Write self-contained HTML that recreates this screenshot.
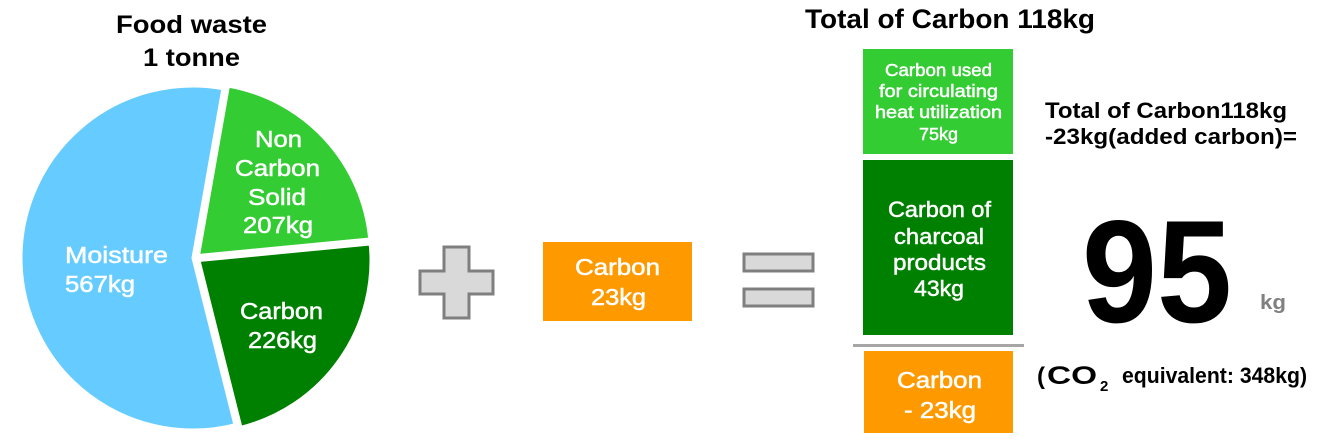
<!DOCTYPE html>
<html>
<head>
<meta charset="utf-8">
<style>
  html,body{margin:0;padding:0;background:#fff;}
  svg{display:block;}
  text{font-family:"Liberation Sans","Noto Sans CJK JP",sans-serif;}
  .b{font-weight:bold;fill:#000;}
  .w{fill:#fff;stroke:#fff;stroke-width:0.5;}
</style>
</head>
<body>
<svg width="1320" height="443" viewBox="0 0 1320 443" xmlns="http://www.w3.org/2000/svg">
  <!-- Left title -->
  <text class="b" x="116" y="33" font-size="25" textLength="151" lengthAdjust="spacingAndGlyphs">Food waste</text>
  <text class="b" x="143" y="66" font-size="25" textLength="97" lengthAdjust="spacingAndGlyphs">1 tonne</text>

  <!-- Pie -->
  <path d="M193,258 L234.9,424.8 A172,172 0 1 1 222.9,88.6 Z" fill="#66CCFF" stroke="#fff" stroke-width="3"/>
  <path d="M198.5,255.5 L228.4,86.1 A172,172 0 0 1 369.7,239 Z" fill="#33CC33" stroke="#fff" stroke-width="3"/>
  <path d="M199,260.5 L370.2,244 A172,172 0 0 1 240.9,427.3 Z" fill="#008000" stroke="#fff" stroke-width="3"/>

  <!-- Pie labels -->
  <text class="w" x="255" y="147" font-size="23" textLength="47" lengthAdjust="spacingAndGlyphs">Non</text>
  <text class="w" x="235" y="176" font-size="23" textLength="85" lengthAdjust="spacingAndGlyphs">Carbon</text>
  <text class="w" x="248" y="205" font-size="23" textLength="58" lengthAdjust="spacingAndGlyphs">Solid</text>
  <text class="w" x="243" y="233" font-size="23" textLength="70" lengthAdjust="spacingAndGlyphs">207kg</text>

  <text class="w" x="65" y="263" font-size="23" textLength="103" lengthAdjust="spacingAndGlyphs">Moisture</text>
  <text class="w" x="65" y="292" font-size="23" textLength="70" lengthAdjust="spacingAndGlyphs">567kg</text>

  <text class="w" x="240" y="319" font-size="23" textLength="83" lengthAdjust="spacingAndGlyphs">Carbon</text>
  <text class="w" x="248" y="348" font-size="23" textLength="69" lengthAdjust="spacingAndGlyphs">226kg</text>

  <!-- Plus -->
  <path d="M444,247 L469,247 L469,271 L493,271 L493,294 L469,294 L469,318 L444,318 L444,294 L420,294 L420,271 L444,271 Z" fill="#D9D9D9" stroke="#7F7F7F" stroke-width="3"/>

  <!-- Orange box -->
  <rect x="543" y="242" width="149" height="79" fill="#FF9900"/>
  <text class="w" x="575" y="275" font-size="23" textLength="85" lengthAdjust="spacingAndGlyphs">Carbon</text>
  <text class="w" x="591" y="305" font-size="23" textLength="55" lengthAdjust="spacingAndGlyphs">23kg</text>

  <!-- Equals -->
  <rect x="744" y="254" width="69" height="17" fill="#D9D9D9" stroke="#7F7F7F" stroke-width="3"/>
  <rect x="744" y="289" width="69" height="17" fill="#D9D9D9" stroke="#7F7F7F" stroke-width="3"/>

  <!-- Right title -->
  <text class="b" x="805" y="28" font-size="27" textLength="290" lengthAdjust="spacingAndGlyphs">Total of Carbon 118kg</text>

  <!-- Light green box -->
  <rect x="863" y="49" width="150" height="105" fill="#33CC33"/>
  <text class="w" x="885" y="76" font-size="17.5" textLength="107" lengthAdjust="spacingAndGlyphs">Carbon used</text>
  <text class="w" x="879" y="97" font-size="17.5" textLength="119" lengthAdjust="spacingAndGlyphs">for circulating</text>
  <text class="w" x="875" y="118" font-size="17.5" textLength="127" lengthAdjust="spacingAndGlyphs">heat utilization</text>
  <text class="w" x="919" y="140" font-size="17.5" textLength="39" lengthAdjust="spacingAndGlyphs">75kg</text>

  <!-- Dark green box -->
  <rect x="863" y="160" width="150" height="175" fill="#008000"/>
  <text class="w" x="888" y="217" font-size="22" textLength="103" lengthAdjust="spacingAndGlyphs">Carbon of</text>
  <text class="w" x="894" y="244" font-size="22" textLength="90" lengthAdjust="spacingAndGlyphs">charcoal</text>
  <text class="w" x="893" y="270" font-size="22" textLength="93" lengthAdjust="spacingAndGlyphs">products</text>
  <text class="w" x="914" y="296" font-size="22" textLength="50" lengthAdjust="spacingAndGlyphs">43kg</text>

  <!-- Gray separator -->
  <rect x="853" y="344" width="171" height="3" fill="#A6A6A6"/>

  <!-- Orange box 2 -->
  <rect x="864" y="351" width="149" height="82" fill="#FF9900"/>
  <text class="w" x="897" y="388" font-size="23" textLength="85" lengthAdjust="spacingAndGlyphs">Carbon</text>
  <text class="w" x="904" y="418" font-size="23" textLength="72" lengthAdjust="spacingAndGlyphs">- 23kg</text>

  <!-- Right texts -->
  <text class="b" x="1045" y="118" font-size="22" textLength="242" lengthAdjust="spacingAndGlyphs">Total of Carbon118kg</text>
  <text class="b" x="1045" y="144" font-size="22" textLength="252" lengthAdjust="spacingAndGlyphs">-23kg(added carbon)=</text>

  <text class="b" x="1082" y="322" font-size="146" textLength="150" lengthAdjust="spacingAndGlyphs">95</text>
  <text x="1260" y="309" font-size="20" font-weight="bold" fill="#808080" textLength="26" lengthAdjust="spacingAndGlyphs">kg</text>

  <text class="b" x="1037" y="384" font-size="24">(</text>
  <text class="b" x="1047" y="384" font-size="25" textLength="50" lengthAdjust="spacingAndGlyphs">CO</text>
  <text class="b" x="1100" y="391" font-size="15">2</text>
  <text class="b" x="1122" y="383" font-size="22" textLength="185" lengthAdjust="spacingAndGlyphs">equivalent: 348kg)</text>
</svg>
</body>
</html>
